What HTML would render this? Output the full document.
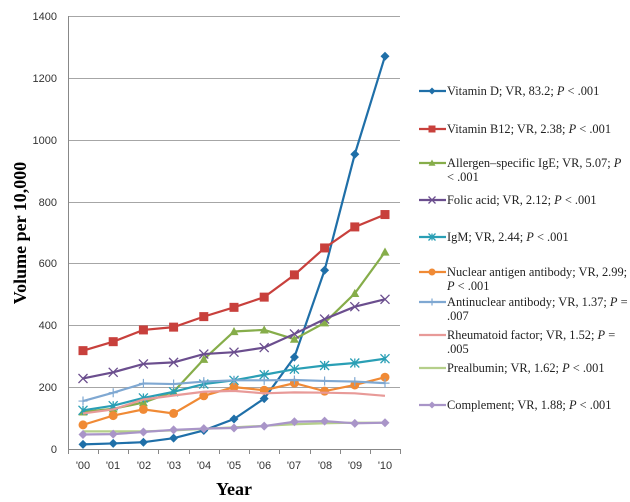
<!DOCTYPE html>
<html><head><style>body{margin:0;background:#fff}svg{display:block}</style></head><body>
<svg width="630" height="502" xmlns="http://www.w3.org/2000/svg" font-family="Liberation Sans, sans-serif">
<g stroke="#a6a6a6" stroke-width="1">
<line x1="68" y1="16.5" x2="400" y2="16.5"/><line x1="68" y1="78.5" x2="400" y2="78.5"/><line x1="68" y1="140.5" x2="400" y2="140.5"/><line x1="68" y1="202.5" x2="400" y2="202.5"/><line x1="68" y1="263.5" x2="400" y2="263.5"/><line x1="68" y1="325.5" x2="400" y2="325.5"/><line x1="68" y1="387.5" x2="400" y2="387.5"/>
<line x1="68" y1="449.5" x2="400" y2="449.5" stroke="#888"/><line x1="68.5" y1="16" x2="68.5" y2="454" stroke="#888"/>
</g>
<g stroke="#888"><line x1="98.5" y1="449" x2="98.5" y2="454"/><line x1="128.5" y1="449" x2="128.5" y2="454"/><line x1="158.5" y1="449" x2="158.5" y2="454"/><line x1="189.5" y1="449" x2="189.5" y2="454"/><line x1="219.5" y1="449" x2="219.5" y2="454"/><line x1="249.5" y1="449" x2="249.5" y2="454"/><line x1="279.5" y1="449" x2="279.5" y2="454"/><line x1="310.5" y1="449" x2="310.5" y2="454"/><line x1="340.5" y1="449" x2="340.5" y2="454"/><line x1="370.5" y1="449" x2="370.5" y2="454"/><line x1="400.5" y1="449" x2="400.5" y2="454"/></g>
<g font-size="11" fill="#333" text-anchor="end">
<text x="57" y="20">1400</text><text x="57" y="82">1200</text><text x="57" y="144">1000</text><text x="57" y="206">800</text><text x="57" y="267">600</text><text x="57" y="329">400</text><text x="57" y="391">200</text><text x="57" y="453">0</text></g>
<g font-size="11" fill="#333" text-anchor="middle">
<text x="83" y="469">'00</text><text x="113" y="469">'01</text><text x="144" y="469">'02</text><text x="174" y="469">'03</text><text x="204" y="469">'04</text><text x="234" y="469">'05</text><text x="264" y="469">'06</text><text x="294" y="469">'07</text><text x="325" y="469">'08</text><text x="355" y="469">'09</text><text x="385" y="469">'10</text></g>
<text x="234" y="495" font-family="Liberation Serif, serif" font-weight="bold" font-size="18" text-anchor="middle">Year</text>
<text transform="translate(26,233) rotate(-90)" font-family="Liberation Serif, serif" font-weight="bold" font-size="18" text-anchor="middle">Volume per 10,000</text>
<g id="s" fill="none" stroke-width="2.2"></g>
<g font-family="Liberation Serif, serif" font-size="12.4" fill="#222" id="lg"></g>
</svg>
<script>
const X=i=>83+i*30.2, Y=v=>449-v*0.3093;
const S=[
["#1f6fa8","d",[15,18,22,35,60,97,163,297,578,953,1270],["Vitamin D; VR, 83.2; <i>P</i> &lt; .001"],91],
["#c8403c","s",[318,347,385,394,428,458,491,563,650,718,758],["Vitamin B12; VR, 2.38; <i>P</i> &lt; .001"],129],
["#86ad4a","t",[120,130,150,185,290,380,385,355,408,503,637],["Allergen–specific IgE; VR, 5.07; <i>P</i>","&lt; .001"],163],
["#6b4e8e","x",[228,248,275,280,307,313,328,372,420,460,484],["Folic acid; VR, 2.12; <i>P</i> &lt; .001"],200],
["#2a9fb5","a",[125,140,165,185,210,222,240,258,270,278,292],["IgM; VR, 2.44; <i>P</i> &lt; .001"],237],
["#f08a35","c",[78,108,128,115,172,200,190,213,187,207,232],["Nuclear antigen antibody; VR, 2.99;","<i>P</i> &lt; .001"],272],
["#7fa8d2","p",[155,182,212,210,218,222,222,223,220,218,213],["Antinuclear antibody; VR, 1.37; <i>P</i> =",".007"],302],
["#e89a98","n",[115,128,160,173,185,188,180,183,182,180,172],["Rheumatoid factor; VR, 1.52; <i>P</i> =",".005"],335],
["#b5cf8a","n",[57,57,57,60,65,70,75,80,83,85,85],["Prealbumin; VR, 1.62; <i>P</i> &lt; .001"],368],
["#a995c8","d",[47,48,55,62,66,68,74,88,90,83,85],["Complement; VR, 1.88; <i>P</i> &lt; .001"],405]];
function mk(t,c,x,y,r){r=r||4.5;
if(t=="d")return `<path d="M${x} ${y-r}L${x+r} ${y}L${x} ${y+r}L${x-r} ${y}Z" fill="${c}"/>`;
if(t=="s")return `<rect x="${x-r}" y="${y-r}" width="${2*r}" height="${2*r}" fill="${c}"/>`;
if(t=="t")return `<path d="M${x} ${y-r}L${x+r} ${y+r*0.8}L${x-r} ${y+r*0.8}Z" fill="${c}"/>`;
if(t=="c")return `<circle cx="${x}" cy="${y}" r="${r}" fill="${c}"/>`;
if(t=="x")return `<path d="M${x-r} ${y-r}L${x+r} ${y+r}M${x-r} ${y+r}L${x+r} ${y-r}" stroke="${c}" stroke-width="1.3"/>`;
if(t=="a")return `<path d="M${x-r} ${y-r}L${x+r} ${y+r}M${x-r} ${y+r}L${x+r} ${y-r}M${x} ${y-r}V${y+r}" stroke="${c}" stroke-width="1.3"/>`;
if(t=="p")return `<path d="M${x-r} ${y}H${x+r}M${x} ${y-r}V${y+r}" stroke="${c}" stroke-width="1.2"/>`;
return "";}
let h="",l="";
for(const[c,t,d,tx,ly]of S){h+=`<polyline stroke="${c}" points="${d.map((v,i)=>X(i)+","+Y(v)).join(" ")}"/>`;
d.forEach((v,i)=>h+=mk(t,c,X(i),Y(v)));
l+=`<line x1="419" y1="${ly}" x2="446" y2="${ly}" stroke="${c}" stroke-width="2.2"/>`+mk(t,c,432,ly,3.5);
tx.forEach((s,k)=>l+=`<text x="447" y="${ly+4+k*14}">${s.replace(/<i>/g,'<tspan font-style="italic">').replace(/<\/i>/g,'</tspan>')}</text>`);}
document.getElementById("s").innerHTML=h;document.getElementById("lg").innerHTML=l;
</script>
</body></html>
